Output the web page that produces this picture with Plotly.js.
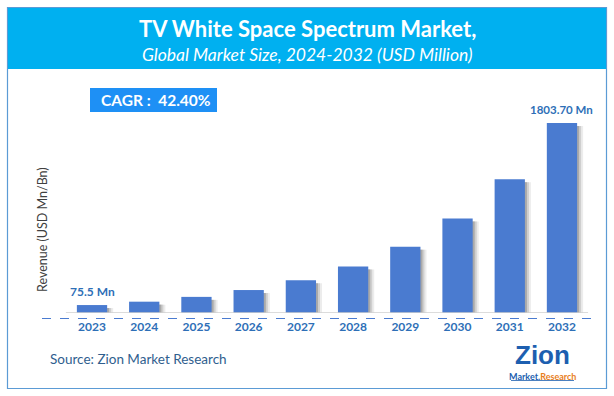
<!DOCTYPE html>
<html><head><meta charset="utf-8">
<script src="https://cdn.plot.ly/plotly-3.0.1.min.js"></script>
<style>html,body{margin:0;padding:0;background:#fff}#chart{width:614px;height:396px}</style>
</head><body><div id="chart"></div>
<script>
const years = ["2023","2024","2025","2026","2027","2028","2029","2030","2031","2032"];
const revenue = [75.5, 107.5, 153, 218, 310, 442, 629, 896, 1270, 1803.7];
const firstLabel = "75.5 Mn";
const lastLabel = "1803.70 Mn";
const cagrText = "CAGR :  42.40%";

const W = 614, H = 396;
const px = x => x / W, py = y => 1 - y / H;
const idx = years.map((_, i) => i);
const FONT = "Lato, 'Open Sans', sans-serif";
const U = 1 / 52.22;          // one pixel in category units
const VY = 2022 / 213;        // one pixel in value units

function shadowTrace(extraPx, color) {
  const right = 0.29 + extraPx * U;
  return {type:"bar", x: idx, y: revenue.map(v => Math.max(v - 3 * VY, 0)), offset: -0.2, width: right + 0.2,
    marker:{color: color, line:{width:0}}, hoverinfo:"skip", showlegend:false};
}
const main = {type:"bar", x: idx, y: revenue, width: 0.58, offset: -0.29,
  marker:{color:"#4a7bd0", line:{width:0}}, showlegend:false};

const A = {showarrow:false, xanchor:"center", yanchor:"middle"};

const layout = {
  width: W, height: H,
  margin:{l:0,r:0,t:0,b:0},
  paper_bgcolor:"#fff", plot_bgcolor:"rgba(0,0,0,0)",
  barmode:"overlay",
  showlegend:false,
  xaxis:{domain:[px(40), px(592)], range:[-0.996, 9.575], tickvals: idx, ticktext: years,
    showgrid:false, zeroline:false, showline:false, ticks:"", ticklabelstandoff: 5,
    tickfont:{family:FONT, size:12, color:"#2e6fb7", weight:"bold"}, fixedrange:true},
  yaxis:{domain:[py(313), py(100)], range:[0, 2022], showgrid:false, zeroline:false,
    showline:false, showticklabels:false, ticks:"", fixedrange:true},
  shapes:[
    {type:"rect", xref:"paper", yref:"paper", x0:px(7.5), x1:px(606.5), y0:py(388.5), y1:py(7.5),
      line:{color:"#5b9bd5", width:1.2}, fillcolor:"rgba(0,0,0,0)", layer:"below"},
    {type:"rect", xref:"paper", yref:"paper", x0:px(8), x1:px(606), y0:py(69), y1:py(8),
      line:{width:0}, fillcolor:"#00b0f0", layer:"below"},
    {type:"line", xref:"x", yref:"y", x0:-0.5, x1:9.5, y0:0, y1:0,
      line:{color:"#d0d0d0", width:1.5}},
    {type:"line", xref:"paper", yref:"paper", x0:px(42), x1:px(592), y0:py(318.5), y1:py(318.5),
      line:{color:"#4a7bd0", width:1.2, dash:"dash"}},
    {type:"rect", xref:"paper", yref:"paper", x0:px(90), x1:px(217), y0:py(112), y1:py(88),
      line:{width:0}, fillcolor:"#1e90f5", layer:"below"},
    {type:"line", xref:"paper", yref:"paper", x0:px(511), x1:px(574), y0:py(380.5), y1:py(380.5),
      line:{color:"#1d5fb0", width:0.8}}
  ],
  annotations:[
    Object.assign({xref:"paper", yref:"paper", x:0.5, y:py(28), text:"<b>TV White Space Spectrum Market,</b>",
      font:{family:FONT, size:22, color:"#fff"}}, A),
    Object.assign({xref:"paper", yref:"paper", x:0.5, y:py(55), text:"<i>Global Market Size, 2024-2032 (USD Million)</i>",
      font:{family:FONT, size:17.5, color:"#fff"}}, A),
    Object.assign({xref:"paper", yref:"paper", x:px(156), y:py(100), text:"<b>"+cagrText+"</b>",
      font:{family:FONT, size:15.5, color:"#fff"}}, A),
    Object.assign({xref:"x", yref:"y", x:0, y:revenue[0], yshift:14, text:"<b>"+firstLabel+"</b>",
      font:{family:FONT, size:12, color:"#2e6fb7"}}, A),
    Object.assign({xref:"x", yref:"y", x:9, y:revenue[9], yshift:14, text:"<b>"+lastLabel+"</b>",
      font:{family:FONT, size:11.5, color:"#2e6fb7"}}, A),
    Object.assign({xref:"paper", yref:"paper", x:px(42), y:py(230), text:"Revenue (USD Mn/Bn)", textangle:-90,
      font:{family:FONT, size:12.5, color:"#404040"}}, A),
    Object.assign({xref:"paper", yref:"paper", x:px(48), y:py(359), text:"Source: Zion Market Research",
      font:{family:FONT, size:13.5, color:"#2f5e8e"}}, A, {xanchor:"left"}),
    Object.assign({xref:"paper", yref:"paper", x:px(542), y:py(354.5), text:"<b>Zion</b>",
      font:{family:"'Liberation Sans', Arial, sans-serif", size:26, color:"#1d5fb0"}}, A),
    Object.assign({xref:"paper", yref:"paper", x:px(542.5), y:py(376), text:"<b><span style='color:#1d5fb0'>Market.</span><span style='color:#e8801e'>Research</span></b>",
      font:{family:FONT, size:9, color:"#1d5fb0"}}, A)
  ]
};
Plotly.newPlot("chart", [shadowTrace(6, "#ececec"), shadowTrace(4, "#cfcfcf"), shadowTrace(2, "#a9a9a9"), main],
  layout, {displayModeBar:false, staticPlot:true});
</script></body></html>
